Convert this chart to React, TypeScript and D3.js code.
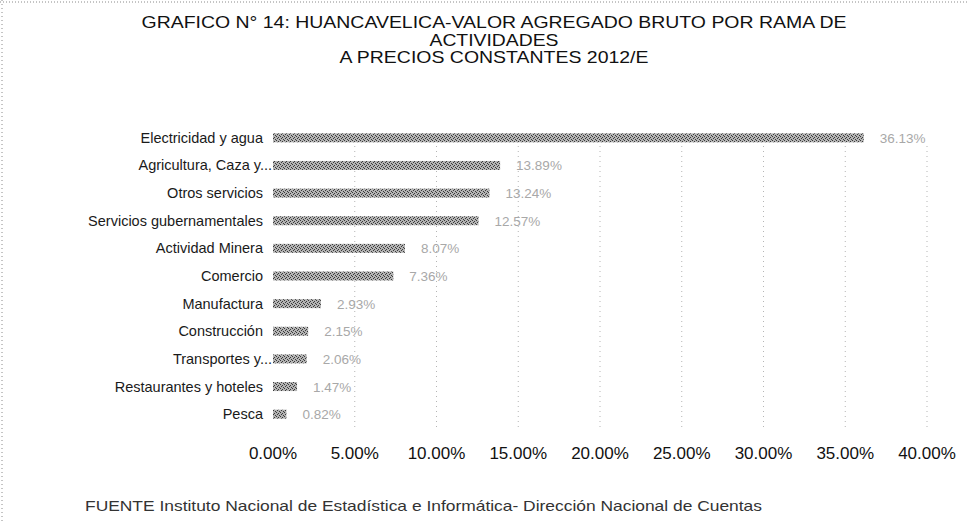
import * as d3 from 'd3';

const categories = [
  'Electricidad y agua',
  'Agricultura, Caza y...',
  'Otros servicios',
  'Servicios gubernamentales',
  'Actividad Minera',
  'Comercio',
  'Manufactura',
  'Construcción',
  'Transportes y...',
  'Restaurantes y hoteles',
  'Pesca',
];
const values = [36.13, 13.89, 13.24, 12.57, 8.07, 7.36, 2.93, 2.15, 2.06, 1.47, 0.82];
const ticks = [0, 5, 10, 15, 20, 25, 30, 35, 40];
const titleLines = [
  'GRAFICO N° 14: HUANCAVELICA-VALOR AGREGADO BRUTO POR RAMA DE',
  'ACTIVIDADES',
  'A PRECIOS CONSTANTES 2012/E',
];
const source = 'FUENTE  Instituto  Nacional de Estadística  e Informática- Dirección Nacional de Cuentas';

const W = 967;
const H = 521;
const font = '"Liberation Sans", Arial, sans-serif';

const App = () => {
  const x = d3.scaleLinear().domain([0, 40]).range([273, 927]);
  const y = d3.scaleBand().domain(categories).range([124, 428]);
  const fmt = d3.format('.2f');
  const barH = 9;
  // title is a bit stretched in the scan, same ratio on each line
  const titleW = [705, 129, 309];

  return (
    <svg width={W} height={H} style={{ position: 'absolute', left: 0, top: 0, background: '#fff' }}>
      <defs>
        <pattern id="dither" width={4} height={4} patternUnits="userSpaceOnUse">
          <rect width={4} height={4} fill="#b4b4b4" />
          <rect x={0} y={0} width={1} height={1} fill="#3a3a3a" />
          <rect x={2} y={1} width={1} height={1} fill="#3a3a3a" />
          <rect x={1} y={2} width={1} height={1} fill="#3a3a3a" />
          <rect x={3} y={3} width={1} height={1} fill="#3a3a3a" />
        </pattern>
      </defs>

      {/* scanned frame */}
      <line x1={0} x2={W} y1={2} y2={2} stroke="#8a8a8a" strokeDasharray="1,2" />
      <line x1={2} x2={2} y1={0} y2={H} stroke="#8a8a8a" strokeDasharray="1,3" />

      {/* title */}
      {titleLines.map((t, i) => (
        <text key={t} x={494} y={28 + i * 17.5} textAnchor="middle" fontFamily={font}
          fontSize={17} fill="#111" textLength={titleW[i]} lengthAdjust="spacingAndGlyphs">{t}</text>
      ))}

      {/* gridlines */}
      {ticks.slice(1).map(t => (
        <line key={t} x1={x(t)} x2={x(t)} y1={146} y2={430} stroke="#b5b5b5" strokeDasharray="1,4" />
      ))}

      {/* bars */}
      {categories.map((c, i) => {
        const cy = (y(c) as number) + y.bandwidth() / 2;
        return (
          <g key={c}>
            <text x={c.endsWith('...') ? 272 : 263} y={cy + 5} textAnchor="end" fontFamily={font}
              fontSize={14.5} fill="#1a1a1a">{c}</text>
            <rect x={x(0)} y={cy - barH / 2} width={x(values[i]) - x(0)} height={barH} fill="url(#dither)" />
            <text x={x(values[i]) + 16} y={cy + 5} fontFamily={font} fontSize={13.5} fill="#a8a8a8">
              {fmt(values[i])}%
            </text>
          </g>
        );
      })}

      {/* x axis labels */}
      {ticks.map(t => (
        <text key={t} x={x(t)} y={459} textAnchor="middle" fontFamily={font} fontSize={17} fill="#111">
          {fmt(t)}%
        </text>
      ))}

      {/* source */}
      <text x={85} y={511} fontFamily={font} fontSize={14.5} fill="#333" textLength={677}
        lengthAdjust="spacingAndGlyphs">{source}</text>
    </svg>
  );
};

export default App;
